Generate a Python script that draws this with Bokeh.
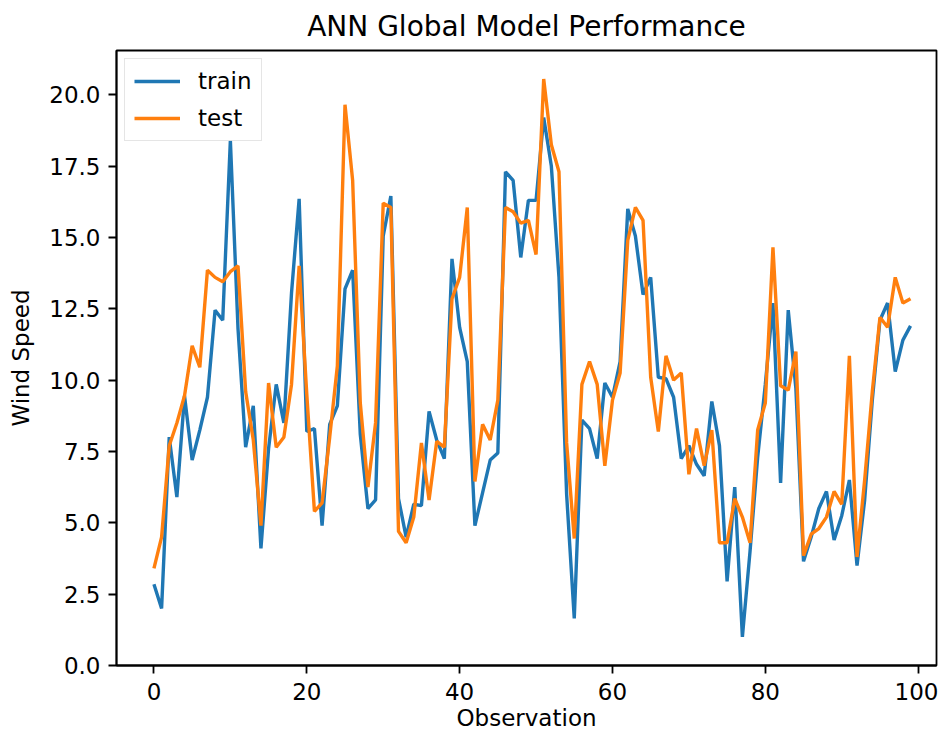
from bokeh.plotting import figure
from bokeh.models import Range1d, FixedTicker, NumeralTickFormatter, Legend, LegendItem
from bokeh.embed import file_html
from bokeh.resources import INLINE

# ---- data ----
observation = list(range(100))

train = [2.85, 2.0, 8.0, 5.9, 9.45, 7.2, 8.25, 9.4, 12.45, 12.1,
         18.4, 11.8, 7.65, 9.1, 4.1, 7.6, 9.85, 8.5, 13.05, 16.35,
         8.2, 8.3, 4.9, 8.45, 9.1, 13.2, 13.85, 8.1, 5.5, 5.8,
         15.05, 16.45, 5.85, 4.5, 5.65, 5.6, 8.9, 7.9, 7.25, 14.25,
         11.85, 10.65, 4.9, 6.05, 7.2, 7.45, 17.3, 17.0, 14.3, 16.3,
         16.3, 19.2, 17.5, 13.6, 6.0, 1.65, 8.6, 8.3, 7.25, 9.9,
         9.4, 10.65, 16.0, 15.05, 13.0, 13.6, 10.1, 10.05, 9.4, 7.25,
         7.7, 7.05, 6.65, 9.25, 7.7, 2.95, 6.25, 1.0, 4.0, 7.3,
         9.85, 12.7, 6.4, 12.45, 9.7, 3.65, 4.5, 5.5, 6.1, 4.4,
         5.25, 6.5, 3.5, 5.8, 9.3, 12.1, 12.7, 10.3, 11.4, 11.9]

test = [3.4, 4.5, 7.7, 8.5, 9.45, 11.2, 10.45, 13.85, 13.6, 13.45,
        13.8, 14.0, 9.6, 7.9, 4.9, 9.9, 7.65, 8.0, 9.85, 14.0,
        9.5, 5.4, 5.7, 8.0, 10.5, 19.65, 17.0, 9.2, 6.25, 8.5,
        16.2, 16.05, 4.7, 4.3, 5.2, 7.8, 5.8, 7.85, 7.65, 12.85,
        13.6, 16.05, 6.45, 8.45, 7.9, 9.3, 16.05, 15.9, 15.5, 15.6,
        14.4, 20.55, 18.25, 17.3, 7.8, 4.45, 9.85, 10.65, 9.85, 7.0,
        9.3, 10.25, 14.9, 16.05, 15.6, 10.1, 8.2, 10.85, 10.0, 10.25,
        6.7, 8.3, 7.0, 8.25, 4.3, 4.3, 5.85, 5.2, 4.3, 8.25,
        9.2, 14.65, 9.8, 9.65, 11.0, 3.85, 4.6, 4.8, 5.2, 6.1,
        5.65, 10.85, 3.8, 6.5, 9.6, 12.2, 11.85, 13.6, 12.7, 12.85]

x_ticks = [0, 20, 40, 60, 80, 100]
y_ticks = [0.0, 2.5, 5.0, 7.5, 10.0, 12.5, 15.0, 17.5, 20.0]

title_text = "ANN Global Model Performance"
x_label = "Observation"
y_label = "Wind Speed"
series_names = ["train", "test"]
series_colors = ["#1f77b4", "#ff7f0e"]

FONT = "DejaVu Sans"

p = figure(width=938, height=740, output_backend="svg", toolbar_location=None,
           x_range=Range1d(-4.9, 102.4), y_range=Range1d(0, 21.55),
           min_border_left=116, min_border_right=2, min_border_top=47,
           min_border_bottom=75, title=title_text)

p.background_fill_color = "white"
p.border_fill_color = "white"
p.grid.visible = False
p.outline_line_color = "black"
p.outline_line_width = 1.8

p.title.text_font = FONT
p.title.text_font_size = "28px"
p.title.text_font_style = "normal"
p.title.align = "center"
p.title.text_color = "black"
p.title.standoff = 15

r1 = p.line(observation, train, line_color=series_colors[0], line_width=3.4)
r2 = p.line(observation, test, line_color=series_colors[1], line_width=3.4)

for ax in (p.xaxis[0], p.yaxis[0]):
    ax.axis_line_color = "black"
    ax.axis_line_width = 1.8
    ax.major_tick_line_color = "black"
    ax.major_tick_line_width = 1.8
    ax.major_tick_out = 8
    ax.major_tick_in = 0
    ax.minor_tick_line_color = None
    ax.major_label_text_font = FONT
    ax.major_label_text_font_size = "23px"
    ax.major_label_text_color = "black"
    ax.major_label_standoff = 8
    ax.axis_label_text_font = FONT
    ax.axis_label_text_font_size = "23px"
    ax.axis_label_text_font_style = "normal"
    ax.axis_label_text_color = "black"

p.xaxis.ticker = FixedTicker(ticks=x_ticks)
p.yaxis.ticker = FixedTicker(ticks=y_ticks)
p.yaxis.formatter = NumeralTickFormatter(format="0.0")
p.xaxis.axis_label = x_label
p.yaxis.axis_label = y_label
p.xaxis.major_label_standoff = 9
p.xaxis.axis_label_standoff = 2
p.yaxis.axis_label_standoff = 12

legend = Legend(items=[LegendItem(label=series_names[0], renderers=[r1]),
                       LegendItem(label=series_names[1], renderers=[r2])],
                location="top_left")
legend.margin = 8
legend.padding = 9
legend.spacing = 11
legend.glyph_width = 46
legend.glyph_height = 24
legend.label_standoff = 18
legend.label_text_font = FONT
legend.label_text_font_size = "23px"
legend.label_text_color = "black"
legend.border_line_color = "#cccccc"
legend.border_line_width = 1.8
legend.background_fill_alpha = 0.8
p.add_layout(legend)

open("out.html", "w").write(file_html(p, INLINE))
